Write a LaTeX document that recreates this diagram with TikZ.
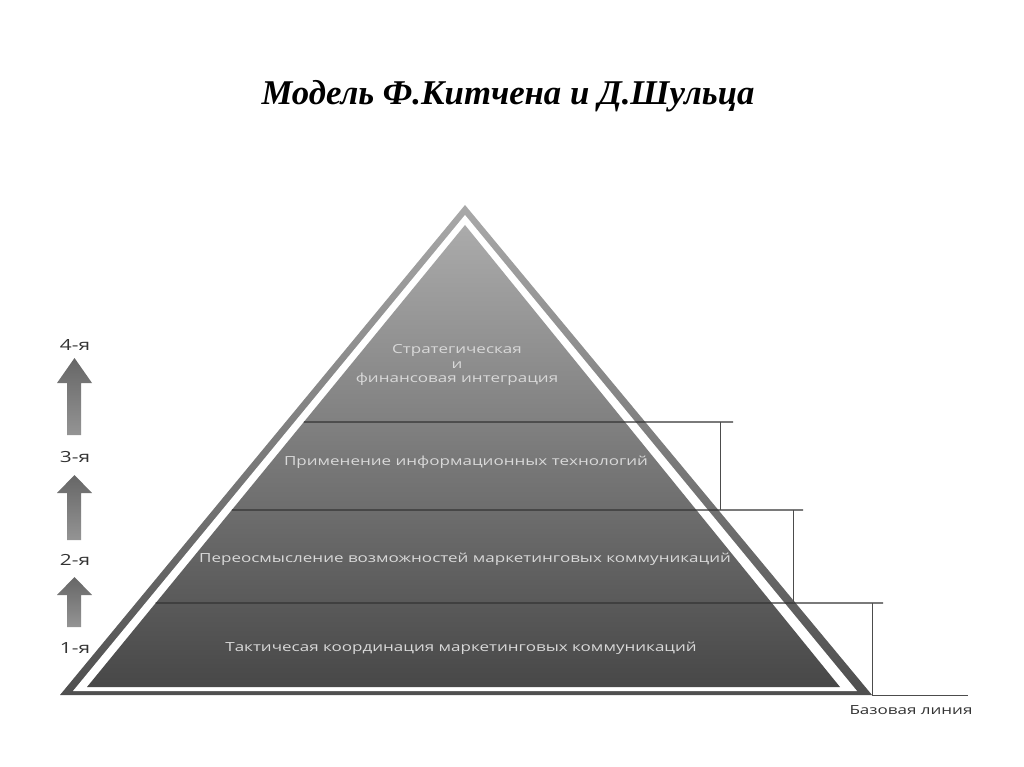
\documentclass[tikz,border=0pt]{standalone}
\usepackage{fontspec}
\setmainfont{Liberation Serif}
\newfontfamily\lblfont[FakeStretch=1.36]{Open Sans}
\usetikzlibrary{calc}

\begin{document}
\begin{tikzpicture}[x=0.025cm,y=-0.025cm]
%define
\tikzstyle{divider} = [draw=black!80, line width=0.9pt]
\tikzstyle{bracket} = [draw=black!70, line width=0.6pt]
\tikzstyle{inlabel} = [text=black!15, font=\lblfont\fontsize{8.9}{10}\selectfont, align=center, inner sep=0pt]
\tikzstyle{lvllabel} = [text=black!80, font=\lblfont\fontsize{10.9}{12}\selectfont, inner sep=0pt]
\tikzstyle{uparrow} = [top color=black!60, bottom color=black!42]
\useasboundingbox (0,0) rectangle (1024,767);

%corners
\coordinate (outA) at (465,205);
\coordinate (outL) at (60,695);
\coordinate (outR) at (872,695);
\coordinate (whA) at (465,215);
\coordinate (whL) at (73,691);
\coordinate (whR) at (857,691);
\coordinate (inA) at (465,225);
\coordinate (inL) at (87,687);
\coordinate (inR) at (840,687);

%pyramid
\shade[top color=black!34, bottom color=black!69] (outA)--(outL)--(outR)--cycle;
\fill[white] (whA)--(whL)--(whR)--cycle;
\shade[top color=black!33, bottom color=black!72] (inA)--(inL)--(inR)--cycle;

%levels
\coordinate (d1l) at ($(inA)!0.4264!(inL)$);
\coordinate (d2l) at ($(inA)!0.6169!(inL)$);
\coordinate (d3l) at ($(inA)!0.8182!(inL)$);
\coordinate (d1r) at (733,422);
\coordinate (d2r) at (803,510);
\coordinate (d3r) at (883,603);
\coordinate (b1t) at (720,422);
\coordinate (b1b) at (720,510);
\coordinate (b2t) at (793,510);
\coordinate (b2b) at (793,603);
\coordinate (b3t) at (872,603);
\coordinate (baseEnd) at (968,695);
\draw[divider](d1l)--(d1r);
\draw[divider](d2l)--(d2r);
\draw[divider](d3l)--(d3r);
\draw[bracket](b1t)--(b1b);
\draw[bracket](b2t)--(b2b);
\draw[bracket](b3t)--(outR);
\draw[bracket](outR)--(baseEnd);

%texts
\node[font=\fontsize{24.7}{28}\selectfont\bfseries\itshape, anchor=base] (title) at (508,105) {Модель Ф.Китчена и Д.Шульца};
\node[inlabel] (strat) at (457,365) {Стратегическая\\и\\финансовая интеграция};
\node[inlabel] (apply) at (466,462) {Применение информационных технологий};
\node[inlabel] (rethink) at (465,559) {Переосмысление возможностей маркетинговых коммуникаций};
\node[inlabel] (tactic) at (461,648) {Тактичесая координация маркетинговых коммуникаций};
\node[lvllabel] (lvl4) at (75,345) {4-я};
\node[lvllabel] (lvl3) at (75,457) {3-я};
\node[lvllabel] (lvl2) at (75,560) {2-я};
\node[lvllabel] (lvl1) at (75,648) {1-я};
\node[lvllabel, font=\lblfont\fontsize{8.9}{10}\selectfont] (baseline) at (911,710) {Базовая линия};

%arrows
\foreach \tip/\neck/\foot in {358/383/435, 475/493/540, 577/595/627}
  \shade[uparrow] (74.5,\tip)--(92,\neck)--(81,\neck)--(81,\foot)--(67,\foot)--(67,\neck)--(57,\neck)--cycle;

\end{tikzpicture}
\end{document}
